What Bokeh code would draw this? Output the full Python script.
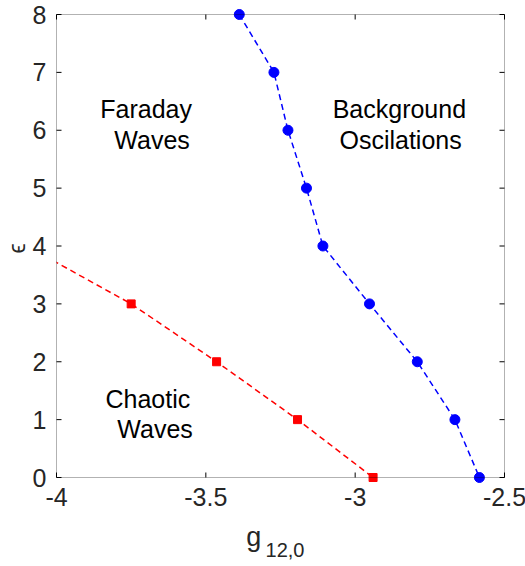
import math
from bokeh.plotting import figure
from bokeh.models import Range1d, Label, BoxAnnotation
from bokeh.embed import file_html
from bokeh.resources import INLINE

# ---- data ----
blue_x = [-3.388, -3.272, -3.225, -3.163, -3.108, -2.952, -2.792, -2.666, -2.584]
blue_y = [8, 7, 6, 5, 4, 3, 2, 1, 0]

red_x = [-4.10, -3.75, -3.464, -3.193, -2.94]
red_y = [4, 3, 2, 1, 0]

x_ticks = [-4, -3.5, -3, -2.5]
x_tick_labels = ["-4", "-3.5", "-3", "-2.5"]
y_ticks = [0, 1, 2, 3, 4, 5, 6, 7, 8]
y_tick_labels = ["0", "1", "2", "3", "4", "5", "6", "7", "8"]

region_texts = ["Faraday", "Waves", "Background", "Oscilations", "Chaotic", "Waves"]
region_x = [-3.700, -3.680, -2.852, -2.848, -3.694, -3.670]
region_y = [6.367, 5.825, 6.367, 5.825, 1.365, 0.838]

X_MIN, X_MAX = -4.0, -2.5
Y_MIN, Y_MAX = 0.0, 8.0

# ---- layout (pixels) ----
W, H = 525, 566
ML, MR, MT, MB = 56, 21, 14, 89
sx = (W - ML - MR) / (X_MAX - X_MIN)
sy = (H - MT - MB) / (Y_MAX - Y_MIN)

FONT = "Liberation Sans"
TXT = "#262626"
FS = "25px"

p = figure(width=W, height=H, min_border=0,
           x_range=Range1d(X_MIN - ML / sx, X_MAX + MR / sx),
           y_range=Range1d(Y_MIN - MB / sy, Y_MAX + MT / sy),
           x_axis_location=None, y_axis_location=None,
           output_backend="svg", toolbar_location=None,
           background_fill_color="white", border_fill_color="white")
p.grid.visible = False
p.outline_line_color = None

# ---- curves ----
p.line(red_x, red_y, line_color="red", line_width=1.5, line_dash="6 4")
p.scatter(red_x, red_y, marker="square", size=8, fill_color="red", line_color="red")

p.line(blue_x, blue_y, line_color="blue", line_width=1.5, line_dash="6 4")
p.scatter(blue_x, blue_y, marker="circle", size=10, fill_color="blue", line_color="blue")

# mask everything left of the axes box (the data is clipped at x = -4)
p.add_layout(BoxAnnotation(right=X_MIN, fill_color="white", fill_alpha=1.0,
                           line_color=None, level="annotation"))

# ---- axes box ----
p.add_layout(BoxAnnotation(left=X_MIN, right=X_MAX, bottom=Y_MIN, top=Y_MAX,
                           fill_alpha=0, line_color="black", line_width=1, level="overlay"))

# ---- inward ticks on all four sides ----
n_x = len(x_ticks)
n_y = len(y_ticks)
p.ray(x=x_ticks, y=[Y_MIN] * n_x, length=5, length_units="screen", angle=math.pi / 2,
      line_color="black", line_width=1, level="overlay")
p.ray(x=x_ticks, y=[Y_MAX] * n_x, length=5, length_units="screen", angle=-math.pi / 2,
      line_color="black", line_width=1, level="overlay")
p.ray(x=[X_MIN] * n_y, y=y_ticks, length=5, length_units="screen", angle=0,
      line_color="black", line_width=1, level="overlay")
p.ray(x=[X_MAX] * n_y, y=y_ticks, length=5, length_units="screen", angle=math.pi,
      line_color="black", line_width=1, level="overlay")

# ---- tick labels ----
p.text(x=x_ticks, y=[Y_MIN] * n_x, text=x_tick_labels, text_align="center",
       text_baseline="top", y_offset=10, text_font={"value": FONT},
       text_font_size=FS, text_color=TXT, level="overlay")
p.text(x=[X_MIN] * n_y, y=y_ticks, text=y_tick_labels, text_align="right",
       text_baseline="middle", x_offset=-10, text_font={"value": FONT},
       text_font_size=FS, text_color=TXT, level="overlay")

# ---- region annotations ----
for t, x, y in zip(region_texts, region_x, region_y):
    p.add_layout(Label(x=x, y=y, text=t, text_align="center", text_baseline="middle",
                       text_font=FONT, text_font_size=FS, text_color="black",
                       level="overlay"))

# ---- axis labels ----
p.add_layout(Label(x=-3.365, y=-1.027, text="g", text_align="left", text_baseline="middle",
                   text_font=FONT, text_font_size="27px", text_color=TXT, level="overlay"))
p.add_layout(Label(x=-3.300, y=-1.256, text="12,0", text_align="left", text_baseline="middle",
                   text_font=FONT, text_font_size="20px", text_color=TXT, level="overlay"))
p.add_layout(Label(x=-4.132, y=3.96, text="\u03f5", text_align="center", text_baseline="middle",
                   angle=math.pi / 2, text_font=FONT, text_font_size="23px", text_color=TXT,
                   level="overlay"))

open("out.html", "w").write(file_html(p, INLINE))
